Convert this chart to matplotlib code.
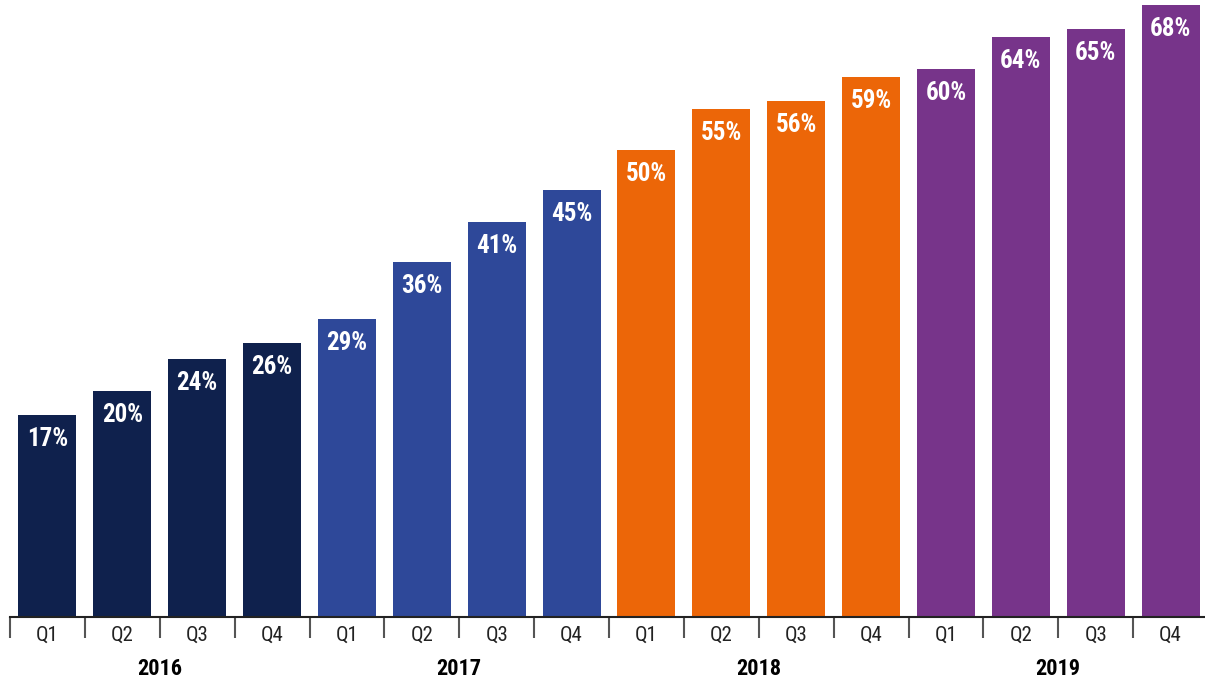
import matplotlib
matplotlib.use('Agg')
from matplotlib import pyplot as plt
from matplotlib import font_manager
from matplotlib.transforms import blended_transform_factory
import numpy as np

quarters = ['Q1', 'Q2', 'Q3', 'Q4'] * 4
years = ['2016', '2017', '2018', '2019']
values = [17, 20, 24, 26, 29, 36, 41, 45, 50, 55, 56, 59, 60, 64, 65, 68]
year_colors = ['#0f214d', '#2e4899', '#ec6608', '#77348a']

base = -8.1

# pick a narrow font if one is installed
installed = {f.name for f in font_manager.fontManager.ttflist}
narrow = [n for n in ['Liberation Sans Narrow', 'Roboto Condensed', 'DejaVu Sans']
          if n in installed]
font = narrow + ['DejaVu Sans']
narrow_ok = narrow[0] != 'DejaVu Sans'

fig = plt.figure(figsize=(12.05, 6.84), dpi=100)
ax = fig.add_axes([10 / 1205, 67 / 684, 1198 / 1205, 617 / 684])

x = np.arange(len(values))
colors = [year_colors[i // 4] for i in range(len(values))]
heights = [v - base for v in values]
ax.bar(x, heights, bottom=base, width=0.775, color=colors)

lab_size = 18 if narrow_ok else 14.5
for xi, v in zip(x, values):
    ax.text(xi, v - 1.5, f'{v}%', ha='center', va='top', color='white',
            fontsize=lab_size, fontweight='bold', family=font, fontstretch='condensed')

ax.set_xlim(-0.5, len(values) - 0.5)
ax.set_ylim(base, 68.6)

for s in ['top', 'right', 'left']:
    ax.spines[s].set_visible(False)
ax.spines['bottom'].set_color('#222222')
ax.spines['bottom'].set_linewidth(1.5)
ax.set_yticks([])

ax.set_xticks(x)
ax.set_xticklabels(quarters, fontsize=15 if narrow_ok else 14, family=font,
                   color='#222222', fontstretch='condensed')
ax.tick_params(axis='x', which='major', length=0, pad=6)
ax.set_xticks(np.arange(-0.5, len(values) - 0.5, 1), minor=True)
ax.tick_params(axis='x', which='minor', length=15, width=1.5, color='#555555')

trans = blended_transform_factory(ax.transData, fig.transFigure)
for i, yr in enumerate(years):
    ax.text(i * 4 + 1.5, 15 / 684, yr, ha='center', va='center',
            fontsize=16 if narrow_ok else 14.5, fontweight='bold', family=font,
            fontstretch='condensed', color='black', transform=trans)

fig.savefig('out.png', dpi=100)
